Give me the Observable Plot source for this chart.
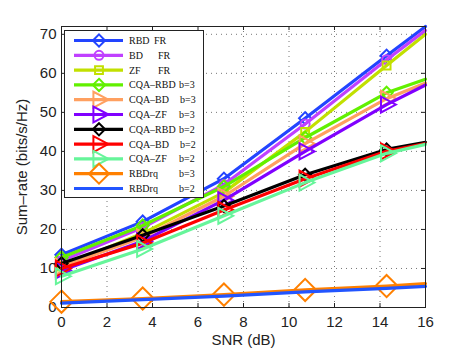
<!DOCTYPE html>
<html><head><meta charset="utf-8">
<script src="https://cdn.jsdelivr.net/npm/d3@7"></script>
<script src="https://cdn.jsdelivr.net/npm/@observablehq/plot@0.6"></script>
<style>body{margin:0;background:#fff}</style>
</head><body><div id="chart"></div><script>
const snr = [0, 3.57, 7.14, 10.71, 14.29, 16];
const markerCount = 5;
const xTicks = [0, 2, 4, 6, 8, 10, 12, 14, 16];
const yTicks = [0, 10, 20, 30, 40, 50, 60, 70];
const seriesNames = ["RBD", "BD", "ZF", "CQA\u2013RBD", "CQA\u2013BD", "CQA\u2013ZF", "CQA\u2013RBD", "CQA\u2013BD", "CQA\u2013ZF", "RBDrq", "RBDrq"];
const seriesSuffix = ["FR", "FR", "FR", "b=3", "b=3", "b=3", "b=2", "b=2", "b=2", "b=3", "b=2"];
const rbdFR   = [13.5, 22, 33, 48.5, 64.5, 72];
const bdFR    = [12, 20.5, 31.5, 47, 63.5, 71];
const zfFR    = [10.5, 19, 29.5, 45, 62, 70];
const cqaRbd3 = [12.8, 21, 31, 43.5, 55, 58.5];
const cqaBd3  = [10.5, 18, 28.5, 42, 53.5, 57.5];
const cqaZf3  = [9.5, 17, 27.5, 40, 52, 57];
const cqaRbd2 = [11.3, 18.5, 26, 34, 40.5, 42.3];
const cqaBd2  = [10, 16.5, 25, 33, 40, 42];
const cqaZf2  = [8, 15, 23.5, 32, 39.5, 41.8];
const rbdrq3  = [1.5, 2.3, 3.3, 4.5, 5.5, 6.1];
const rbdrq2  = [1.1, 2, 2.9, 4, 4.9, 5.4];
const seriesValues = [rbdFR, bdFR, zfFR, cqaRbd3, cqaBd3, cqaZf3, cqaRbd2, cqaBd2, cqaZf2, rbdrq3, rbdrq2];

const colors = ["#2244ff", "#c040ff", "#c2e000", "#62f000", "#ffa060", "#8000ff", "#000000", "#ff0000", "#66f59a", "#ff8000", "#2255ff"];
const rightTri = {draw(ctx, size) {
  const s = Math.sqrt(size / 1.3);
  ctx.moveTo(s, 0); ctx.lineTo(-s * 0.6, -s * 0.85); ctx.lineTo(-s * 0.6, s * 0.85); ctx.closePath();
}};
const symbols = [d3.symbolDiamond2, d3.symbolCircle, d3.symbolSquare2, d3.symbolDiamond2, rightTri, rightTri, d3.symbolDiamond2, rightTri, rightTri, d3.symbolDiamond2, null];
const radii = [5.5, 4.5, 5, 5.5, 6, 6, 5.5, 6, 6, 10, 0];

const W = 469, H = 349, mL = 61, mR = 44, mT = 26, mB = 42;
const ph = H - mT - mB, pw = W - mL - mR;

const seriesMarks = [];
seriesValues.forEach((vals, i) => {
  const pts = snr.map((x, j) => ({x, y: vals[j]}));
  seriesMarks.push(Plot.line(pts, {x: "x", y: "y", stroke: colors[i], strokeWidth: 3.2}));
  if (symbols[i]) seriesMarks.push(Plot.dot(pts.slice(0, markerCount), {x: "x", y: "y", stroke: colors[i], strokeWidth: 2, fill: "none", symbol: symbols[i], r: radii[i]}));
});

const chart = Plot.plot({
  width: W, height: H,
  marginLeft: mL, marginRight: mR, marginTop: mT, marginBottom: mB,
  style: {fontFamily: "'Liberation Sans', Arial, sans-serif", fontSize: "15px", color: "#222", background: "#fff"},
  x: {domain: [0, 16]},
  y: {domain: [0, 72]},
  marks: [
    Plot.gridX(xTicks, {stroke: "#777", strokeOpacity: 1, strokeDasharray: "1,4"}),
    Plot.gridY(yTicks, {stroke: "#777", strokeOpacity: 1, strokeDasharray: "1,4"}),
    Plot.tickX(xTicks, {x: d => d, insetTop: ph - 4, stroke: "#222"}),
    Plot.tickX(xTicks, {x: d => d, insetBottom: ph - 4, stroke: "#222"}),
    Plot.tickY(yTicks, {y: d => d, insetRight: pw - 4, stroke: "#222"}),
    Plot.tickY(yTicks, {y: d => d, insetLeft: pw - 4, stroke: "#222"}),
    Plot.axisX(xTicks, {tickSize: 0, tickPadding: 9, fontSize: 15, label: "SNR (dB)", labelAnchor: "center", labelOffset: 37, labelArrow: "none"}),
    Plot.axisY(yTicks, {tickSize: 0, tickPadding: 5, fontSize: 15, label: "Sum\u2013rate (bits/s/Hz)", labelAnchor: "center", labelOffset: 45, labelArrow: "none"}),
    ...seriesMarks,
    Plot.frame({stroke: "#222"})
  ]
});
document.getElementById("chart").appendChild(chart);

// legend
const svg = d3.select(chart);
const lg = svg.append("g").attr("text-anchor", "start");
const lx = 64, ly = 30, lw = 139, lh = 167;
lg.append("rect").attr("x", lx + 0.5).attr("y", ly + 0.5).attr("width", lw).attr("height", lh).attr("fill", "#fff").attr("stroke", "#222");
const suffixX = [154, 158, 158, 179, 180, 179, 179, 180, 179, 179, 179];
const legendR = [5.5, 4.5, 5, 5.5, 6, 6, 5.5, 6, 6, 9, 0];
seriesNames.forEach((name, i) => {
  const y = 40.5 + i * 14.8;
  lg.append("line").attr("x1", 74).attr("x2", 123).attr("y1", y).attr("y2", y).attr("stroke", colors[i]).attr("stroke-width", 3.2);
  if (symbols[i]) {
    const r = legendR[i];
    lg.append("path").attr("d", d3.symbol(symbols[i], r * r * Math.PI)()).attr("transform", `translate(99,${y})`).attr("fill", "none").attr("stroke", colors[i]).attr("stroke-width", 2);
  }
  lg.append("text").attr("x", 129).attr("y", y).attr("dy", "0.35em").attr("font-family", "'Liberation Serif', 'Times New Roman', serif").attr("font-size", 10).attr("fill", "#111").text(name);
  lg.append("text").attr("x", suffixX[i]).attr("y", y).attr("dy", "0.35em").attr("font-family", "'Liberation Serif', 'Times New Roman', serif").attr("font-size", 10).attr("fill", "#111").text(seriesSuffix[i]);
});
</script></body></html>
